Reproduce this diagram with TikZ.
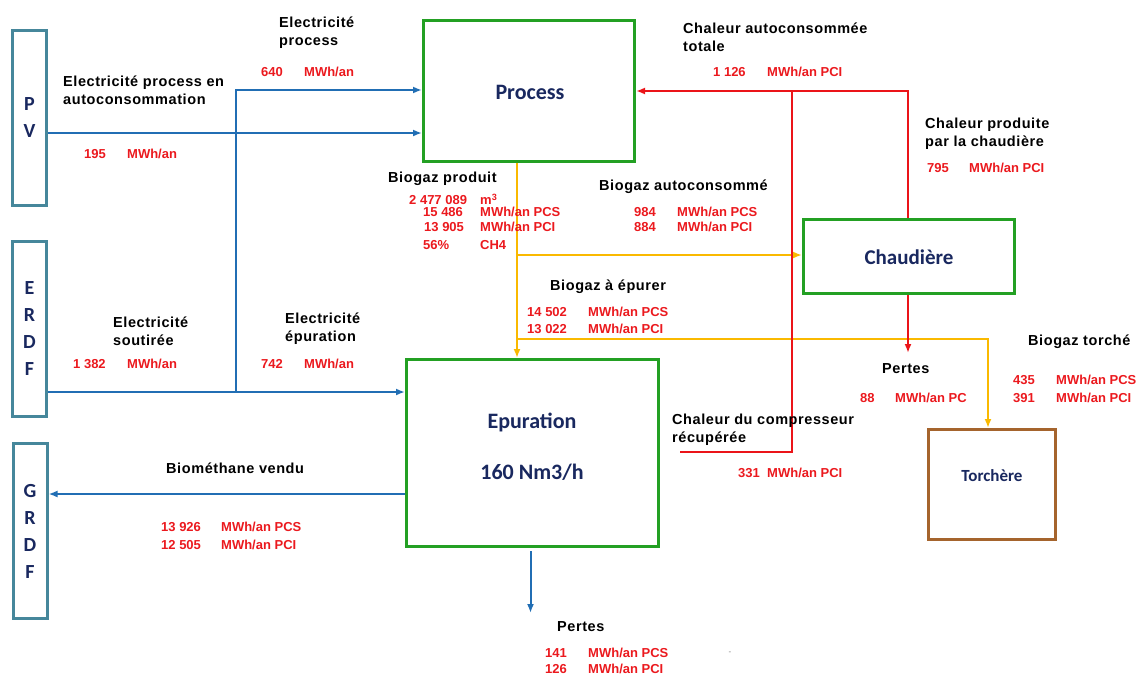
\documentclass[tikz,border=0pt]{standalone}
\usepackage{fontspec}
\setmainfont{Liberation Sans}
\newfontfamily\lblfont{Liberation Sans}[LetterSpace=4]
\newfontfamily\boxfont{Carlito}
\usetikzlibrary{arrows.meta}
\definecolor{bluearr}{RGB}{33,110,180}
\definecolor{redarr}{RGB}{235,20,25}
\definecolor{yelarr}{RGB}{250,185,0}
\definecolor{boxgreen}{RGB}{35,160,35}
\definecolor{srcblue}{RGB}{70,135,155}
\definecolor{torbrown}{RGB}{165,100,45}
\definecolor{navy}{RGB}{25,40,95}
\definecolor{valred}{RGB}{235,25,30}
\tikzset{
  gbox/.style={draw=boxgreen, line width=3pt, fill=white, inner sep=0pt},
  sbox/.style={draw=srcblue, line width=3pt, fill=white, inner sep=0pt, minimum width=34pt, minimum height=175pt,
    font=\boxfont\bfseries\fontsize{20}{27}\selectfont, text=navy, align=center},
  tbox/.style={draw=torbrown, line width=3pt, fill=white, inner sep=0pt},
  btitle/.style={font=\boxfont\bfseries\fontsize{22}{28}\selectfont, text=navy, inner sep=0pt, align=center},
  lbl/.style={font=\lblfont\bfseries\fontsize{14.5}{18}\selectfont, anchor=west, inner sep=0pt, align=left},
  val/.style={font=\bfseries\fontsize{13}{15}\selectfont, text=valred, anchor=west, inner sep=0pt},
  tip/.style={-{Latex[length=9pt,width=7pt]}},
  barrow/.style={draw=bluearr, line width=2pt, tip},
  yarrow/.style={draw=yelarr, line width=2pt, tip},
  rarrow/.style={draw=redarr, line width=2pt, tip},
  rline/.style={draw=redarr, line width=2pt},
}
\begin{document}
\begin{tikzpicture}[x=1pt,y=-1pt]
\useasboundingbox (0,0) rectangle (1138,677);
% boxes
\node[sbox] (PV) at (29.5,118) {P\\V};
\node[sbox] (ERDF) at (29.5,329) {E\\R\\D\\F};
\node[sbox] (GRDF) at (30,531) {G\\R\\D\\F};
\node[gbox, minimum width=211pt, minimum height=141pt] (Process) at (529,91) {};
\node[gbox, minimum width=211pt, minimum height=74pt] (Chaudiere) at (909,256.5) {};
\node[gbox, minimum width=252pt, minimum height=187pt] (Epuration) at (532.5,453) {};
\node[tbox, minimum width=127pt, minimum height=110pt] (Torchere) at (992,484.5) {};
\node[btitle] (tProcess) at (530,92) {Process};
\node[btitle, font=\boxfont\bfseries\fontsize{21}{28}\selectfont] (tChaud) at (909,257) {Chaudière};
\node[btitle] (tEpur) at (532,422) {Epuration};
\node[btitle] (tNm) at (532,472) {160 Nm3/h};
\node[btitle, font=\boxfont\bfseries\fontsize{17}{20}\selectfont] (tTorch) at (992,476) {Torchère};
% coordinates
\coordinate (yPV) at (0,133);
\coordinate (J1) at (236,90);
\coordinate (J2) at (236,392);
\coordinate (yG) at (0,494);
\coordinate (pb) at (0,613);
\coordinate (Y1) at (517,0);
\coordinate (yAuto) at (0,255);
\coordinate (yTor) at (0,339);
\coordinate (compEnd) at (680,452);
\coordinate (rJ) at (792,92);
\coordinate (pc) at (0,353);
% blue connectors
\draw[barrow] (PV.east |- yPV) -- (Process.west |- yPV);
\draw[barrow] (J2) |- (Process.west |- J1);
\draw[barrow] (ERDF.east |- J2) -- (Epuration.west |- J2);
\draw[barrow] (Epuration.west |- yG) -- (GRDF.east |- yG);
\draw[barrow] ([xshift=-2pt,yshift=-3pt]Epuration.south) -- ([xshift=-2pt]Epuration.south |- pb);
% yellow connectors
\draw[yarrow] (Process.south -| Y1) -- (Epuration.north -| Y1);
\draw[yarrow] (Y1 |- yAuto) -- (Chaudiere.west |- yAuto);
\draw[yarrow] (Y1 |- yTor) -| ([xshift=-4pt]Torchere.north);
% red connectors
\draw[rarrow] ([xshift=-1pt]Chaudiere.north) |- (Process.east);
\draw[rline] (compEnd) -| (rJ);
\draw[rarrow] ([xshift=-1pt]Chaudiere.south) -- ([xshift=-1pt]Chaudiere.south |- pc);
% labels
\node[lbl] (lEP) at (279,33) {Electricité\\process};
\node[val] (v640) at (261,72) {640};
\node[val] (u640) at (304,72) {MWh/an};
\node[lbl] (lEPA) at (63,90) {Electricité process en\\autoconsommation};
\node[val] (v195) at (84,154) {195};
\node[val] (u195) at (127,154) {MWh/an};
\node[lbl] (lBP) at (388,179) {Biogaz produit};
\node[val] (vBP1) at (409,200) {2 477 089};
\node[val] (uBP1) at (480,199) {m\textsuperscript{3}};
\node[val] (vBP2) at (423,212) {15 486};
\node[val] (uBP2) at (480,212) {MWh/an PCS};
\node[val] (vBP3) at (424,227) {13 905};
\node[val] (uBP3) at (480,227) {MWh/an PCI};
\node[val] (vBP4) at (423,245) {56\%};
\node[val] (uBP4) at (480,245) {CH4};
\node[lbl] (lBA) at (599,187) {Biogaz autoconsommé};
\node[val] (vBA1) at (634,212) {984};
\node[val] (uBA1) at (677,212) {MWh/an PCS};
\node[val] (vBA2) at (634,227) {884};
\node[val] (uBA2) at (677,227) {MWh/an PCI};
\node[lbl] (lCA) at (683,37) {Chaleur autoconsommée\\totale};
\node[val] (vCA) at (713,72) {1 126};
\node[val] (uCA) at (767,72) {MWh/an PCI};
\node[lbl] (lCP) at (925,134) {Chaleur produite\\par la chaudière};
\node[val] (vCP) at (927,168) {795};
\node[val] (uCP) at (969,168) {MWh/an PCI};
\node[lbl] (lBE) at (550,287) {Biogaz à épurer};
\node[val] (vBE1) at (527,312) {14 502};
\node[val] (uBE1) at (588,312) {MWh/an PCS};
\node[val] (vBE2) at (527,329) {13 022};
\node[val] (uBE2) at (588,329) {MWh/an PCI};
\node[lbl] (lES) at (113,331) {Electricité\\soutirée};
\node[val] (v1382) at (73,364) {1 382};
\node[val] (u1382) at (127,364) {MWh/an};
\node[lbl] (lEE) at (285,329) {Electricité\\épuration};
\node[val] (v742) at (261,364) {742};
\node[val] (u742) at (304,364) {MWh/an};
\node[lbl] (lPC) at (882,369) {Pertes};
\node[val] (v88) at (860,398) {88};
\node[val] (u88) at (895,398) {MWh/an PC};
\node[lbl] (lBT) at (1028,342) {Biogaz torché};
\node[val] (vBT1) at (1013,380) {435};
\node[val] (uBT1) at (1056,380) {MWh/an PCS};
\node[val] (vBT2) at (1013,398) {391};
\node[val] (uBT2) at (1056,398) {MWh/an PCI};
\node[lbl] (lCC) at (672,430) {Chaleur du compresseur\\récupérée};
\node[val] (vCC) at (738,473) {331};
\node[val] (uCC) at (767,473) {MWh/an PCI};
\node[lbl] (lBV) at (166,468) {Biométhane vendu};
\node[val] (vBV1) at (161,527) {13 926};
\node[val] (uBV1) at (221,527) {MWh/an PCS};
\node[val] (vBV2) at (161,545) {12 505};
\node[val] (uBV2) at (221,545) {MWh/an PCI};
\node[lbl] (lPB) at (557,627) {Pertes};
\node[val] (vPB1) at (545,653) {141};
\node[val] (uPB1) at (588,653) {MWh/an PCS};
\node[val] (vPB2) at (545,669) {126};
\node[val] (uPB2) at (588,669) {MWh/an PCI};
\node[font=\fontsize{8}{8}\selectfont, text=gray, inner sep=0pt] (dash) at (730,653) {-};
\end{tikzpicture}
\end{document}
